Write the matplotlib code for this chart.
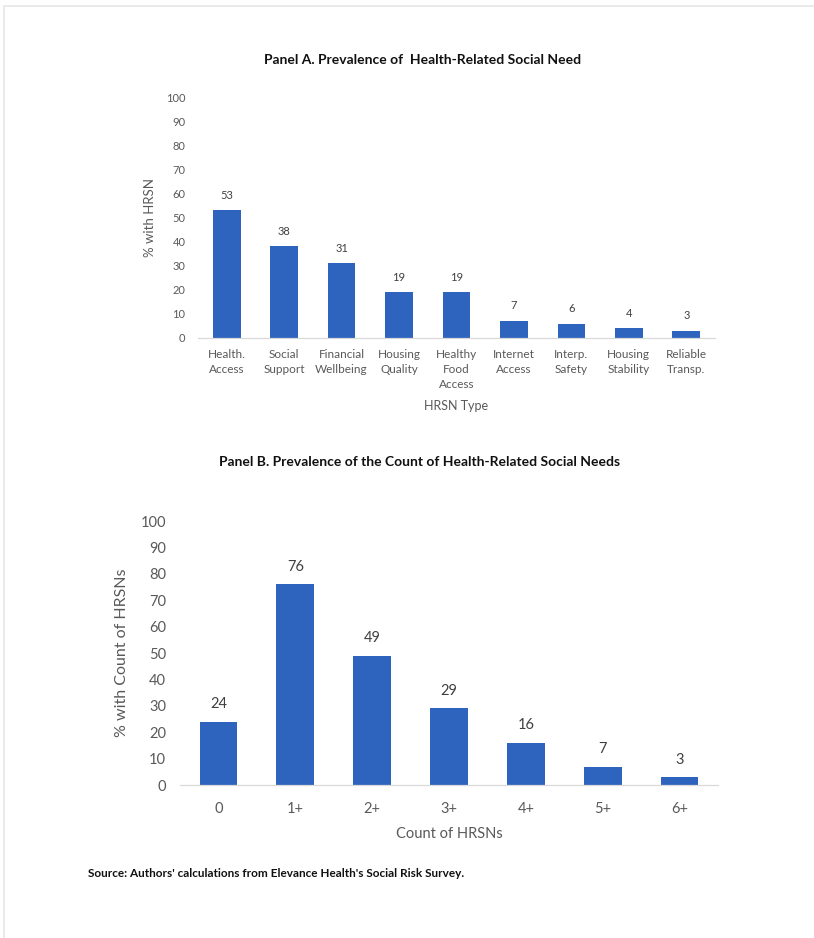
import numpy as np
import matplotlib.pyplot as plt
from matplotlib.patches import Rectangle

# data
hrsn_types = ["Health.\nAccess", "Social\nSupport", "Financial\nWellbeing", "Housing\nQuality",
              "Healthy\nFood\nAccess", "Internet\nAccess", "Interp.\nSafety", "Housing\nStability",
              "Reliable\nTransp."]
hrsn_pct = [53, 38, 31, 19, 19, 7, 6, 4, 3]

count_labels = ["0", "1+", "2+", "3+", "4+", "5+", "6+"]
count_pct = [24, 76, 49, 29, 16, 7, 3]

bar_color = "#2e63be"
tick_color = "#595959"
label_color = "#404040"

plt.rcParams['font.family'] = ['Lato', 'DejaVu Sans']

W, H = 814, 938
fig = plt.figure(figsize=(W / 100, H / 100), dpi=100)

# light page frame
fig.patches.append(Rectangle((4 / W, -0.01), 1.0, 1 - 6 / H + 0.01, transform=fig.transFigure,
                             fill=False, edgecolor="#e6e6e6", linewidth=1.2))


def px(x0, y0, x1, y1):
    # pixel box -> figure fraction [left, bottom, width, height]
    return [x0 / W, 1 - y1 / H, (x1 - x0) / W, (y1 - y0) / H]


def style(ax, fs):
    for s in ["top", "right", "left"]:
        ax.spines[s].set_visible(False)
    ax.spines["bottom"].set_color("#d9d9d9")
    ax.spines["bottom"].set_linewidth(0.9)
    ax.tick_params(axis="both", length=0, colors=tick_color, labelsize=fs)
    ax.set_ylim(0, 100)
    ax.set_yticks(np.arange(0, 101, 10))


# Panel A
axA = fig.add_axes(px(198, 97, 715, 338))
x = np.arange(len(hrsn_types))
axA.bar(x, hrsn_pct, width=0.48, color=bar_color)
style(axA, 8)
axA.set_xlim(-0.5, len(hrsn_types) - 0.5)
axA.set_xticks(x)
axA.set_xticklabels(hrsn_types, linespacing=1.45, va="top", fontsize=8.5)
axA.tick_params(axis="x", pad=8)
axA.tick_params(axis="y", pad=9)
for xi, v in zip(x, hrsn_pct):
    axA.text(xi, v + 4, str(v), ha="center", va="bottom", fontsize=8, color=label_color)
axA.set_ylabel("% with HRSN", fontsize=9.5, color=tick_color, labelpad=7)
axA.set_xlabel("HRSN Type", fontsize=9, color=tick_color, labelpad=7)
fig.text(423 / W, 1 - 60 / H, "Panel A. Prevalence of  Health-Related Social Need",
         ha="center", va="center", fontsize=10, fontweight="bold", color="#111111")

# Panel B
axB = fig.add_axes(px(180, 521, 718, 785))
xb = np.arange(len(count_labels))
axB.bar(xb, count_pct, width=0.49, color=bar_color)
style(axB, 10.5)
axB.set_xlim(-0.5, len(count_labels) - 0.5)
axB.set_xticks(xb)
axB.set_xticklabels(count_labels)
axB.tick_params(axis="x", pad=12)
axB.tick_params(axis="y", pad=10)
for xi, v in zip(xb, count_pct):
    axB.text(xi, v + 4, str(v), ha="center", va="bottom", fontsize=10.5, color=label_color)
axB.set_ylabel("% with Count of HRSNs", fontsize=11.5, color=tick_color, labelpad=8)
axB.set_xlabel("Count of HRSNs", fontsize=10.5, color=tick_color, labelpad=8)
fig.text(420 / W, 1 - 462 / H, "Panel B. Prevalence of the Count of Health-Related Social Needs",
         ha="center", va="center", fontsize=10, fontweight="bold", color="#111111")

fig.text(88 / W, 1 - 873 / H, "Source: Authors' calculations from Elevance Health's Social Risk Survey.",
         ha="left", va="center", fontsize=8.5, fontweight="bold", color="#111111")

fig.savefig("out.png", dpi=100, facecolor="white")
